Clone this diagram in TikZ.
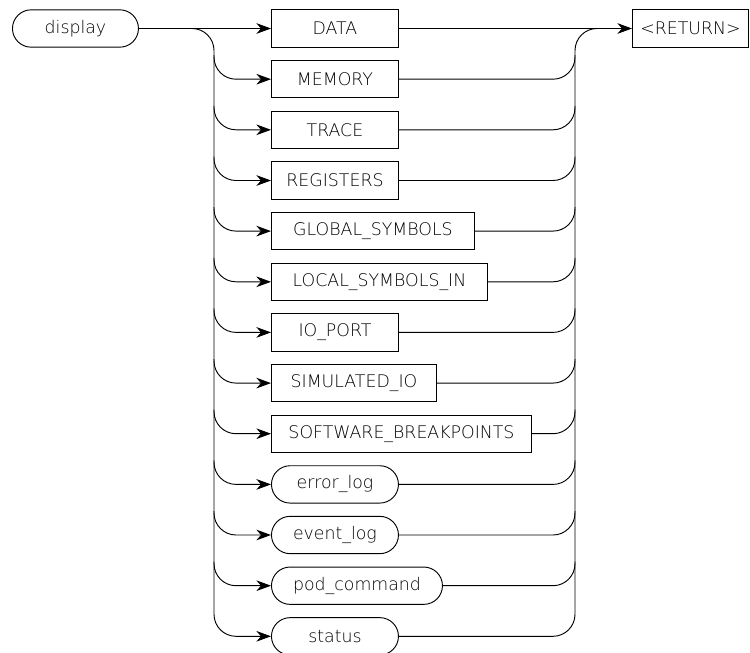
\documentclass[tikz,border=0pt]{standalone}
\usepackage{fontspec}
\setmainfont{DejaVu Sans ExtraLight}
\usetikzlibrary{arrows.meta,calc}
\begin{document}
\begin{tikzpicture}[x=0.75pt,y=-0.75pt,
  line width=0.7pt,
  kw/.style={draw, rectangle, minimum height=28pt, inner sep=0pt, anchor=west,
             font=\fontsize{13}{13}\selectfont},
  lit/.style={kw, rounded corners=14pt},
  arr/.style={-{Stealth[length=11pt,width=8pt,inset=3.5pt]}},
  rc/.style={rounded corners=16.5pt}]
\useasboundingbox (0,0) rectangle (750,653);
% nodes
\node[lit, minimum width=94.5pt] (display) at (12,28.5) {display};
\node[kw, minimum width=95.25pt]  (n1)  at (271,28.5)  {DATA};
\node[kw, minimum width=95.25pt]  (n2)  at (271,79.2)  {MEMORY};
\node[kw, minimum width=95.25pt]  (n3)  at (271,129.8) {TRACE};
\node[kw, minimum width=95.25pt]  (n4)  at (271,180.5) {REGISTERS};
\node[kw, minimum width=152.25pt] (n5)  at (271,231.1) {GLOBAL\_SYMBOLS};
\node[kw, minimum width=162pt]    (n6)  at (271,281.8) {LOCAL\_SYMBOLS\_IN};
\node[kw, minimum width=95.25pt]  (n7)  at (271,332.4) {IO\_PORT};
\node[kw, minimum width=123.75pt] (n8)  at (271,383.1) {SIMULATED\_IO};
\node[kw, minimum width=195pt]    (n9)  at (271,433.7) {SOFTWARE\_BREAKPOINTS};
\node[lit, minimum width=95.25pt] (n10) at (271,484.4) {error\_log};
\node[lit, minimum width=95.25pt] (n11) at (271,535.0) {event\_log};
\node[lit, minimum width=128.25pt](n12) at (271,585.7) {pod\_command};
\node[lit, minimum width=95.25pt] (n13) at (271,636.3) {status};
\node[kw, minimum width=87pt]     (ret) at (632,28.5)  {<RETURN>};
% bus coordinates
\coordinate (lbus) at (214,28.5);
\coordinate (rbus) at (575,28.5);
% main line
\draw[arr] (display.east) -- (n1.west);
\draw[arr] (n1.east) -- (ret.west);
% second row
\draw[arr, rc] (display.east) -| (lbus |- n2.west) -- (n2.west);
\draw[rc] (n2.east) -| (rbus) -- ($(rbus)+(26,0)$);
% remaining rows
\foreach \p/\c in {n2/n3,n3/n4,n4/n5,n5/n6,n6/n7,n7/n8,n8/n9,n9/n10,n10/n11,n11/n12,n12/n13}{
  \draw[arr, rc] ($(lbus |- \p.west)+(0,-24)$) |- (\c.west);
  \draw[rc] (\c.east) -| ($(rbus |- \p.east)+(0,-24)$);
}
\end{tikzpicture}
\end{document}
